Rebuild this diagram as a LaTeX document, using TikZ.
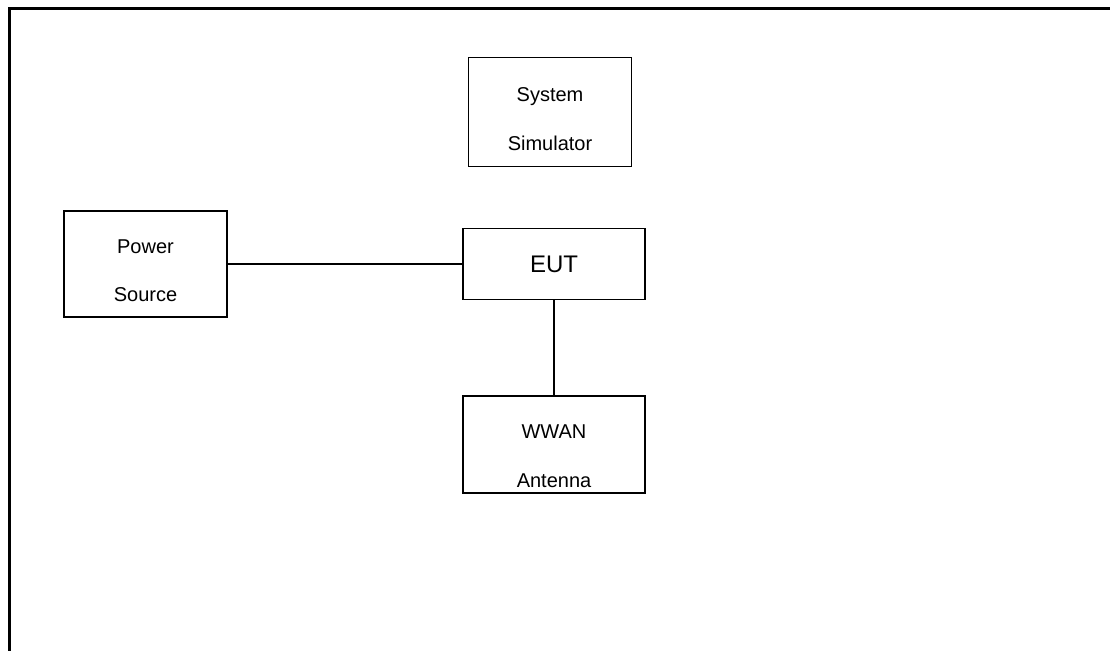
\documentclass[tikz,border=0pt]{standalone}
\usepackage{fontspec}
\setmainfont{Liberation Sans}
\begin{document}
\begin{tikzpicture}[x=1pt,y=-1pt,
  box/.style={draw=black,line width=1.2pt,rectangle,inner sep=0pt},
  lbl/.style={anchor=base,inner sep=0pt,font=\fontsize{20}{24}\selectfont},
  biglbl/.style={anchor=base,inner sep=0pt,font=\fontsize{24}{28}\selectfont},
  wire/.style={draw=black,line width=1.3pt}]
\useasboundingbox (0,0) rectangle (1110,650);
% frame
\draw[line width=3pt,line cap=rect] (9,652) -- (9,9) -- (1112,9);
% boxes
\node[box,minimum width=163pt,minimum height=109pt] (sim) at (550,112) {};
\node[box,minimum width=163pt,minimum height=106pt] (pwr) at (145.5,264) {};
\node[box,minimum width=182pt,minimum height=71pt] (eut) at (554,264) {};
\node[box,minimum width=182pt,minimum height=97pt] (ant) at (554,444.5) {};
% labels
\node[lbl] (simt1) at (550,102) {System};
\node[lbl] (simt2) at (550,150) {Simulator};
\node[lbl] (pwrt1) at (145.5,253) {Power};
\node[lbl] (pwrt2) at (145.5,301) {Source};
\node[biglbl] (eutt) at (554,272) {EUT};
\node[lbl] (antt1) at (554,438) {WWAN};
\node[lbl] (antt2) at (554,487) {Antenna};
% connectors
\draw[wire] (pwr.east) -- (eut.west);
\draw[wire] (eut.south) -- (ant.north);
\end{tikzpicture}
\end{document}
